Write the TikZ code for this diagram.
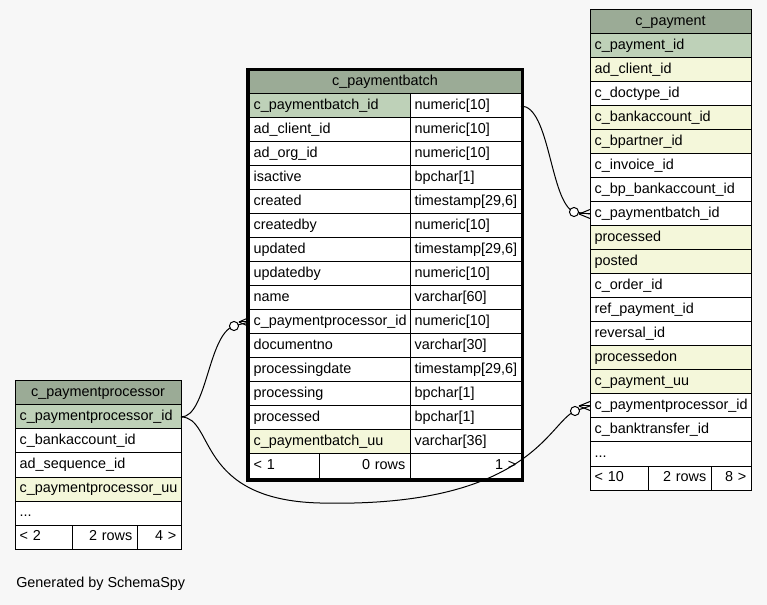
\documentclass[tikz,border=0pt]{standalone}
\usepackage{fontspec}
\setmainfont{Liberation Sans}
\usetikzlibrary{calc}
\definecolor{hdr}{HTML}{9BAB96}
\definecolor{pk}{HTML}{BED1B8}
\definecolor{idx}{HTML}{F4F7DA}
\definecolor{bg}{HTML}{F7F7F7}
\tikzset{
  cellbase/.style={draw=black, line width=0.75pt, anchor=north west, outer sep=0pt,
    inner xsep=3.5pt, inner ysep=0pt, minimum height=18pt,
    text height=7.9pt, text depth=2.4pt, font=\fontsize{10.8}{12}\selectfont},
  edge/.style={draw=black, line width=0.75pt},
  ocircle/.style={draw=black, line width=0.75pt, fill=white},
  gentext/.style={anchor=west, inner sep=0pt, font=\fontsize{10.8}{12}\selectfont},
}
% name, x1, x2, y, align, fill, text
\newcommand\tcell[7]{%
  \pgfmathsetmacro\tcw{(#3-#2)*0.75-7}%
  \node[cellbase, fill=#6, text width=\tcw pt, align=#5] (#1) at (#2,#4) {#7};%
}
\newcommand\crowat[2]{% apex offset, target anchor
  \draw[edge] ($(#2)+(#1,0)$) -- ($(#2)+(0,-4.5)$);
  \draw[edge] ($(#2)+(#1,0)$) -- (#2);
  \draw[edge] ($(#2)+(#1,0)$) -- ($(#2)+(0,4.5)$);
}
\begin{document}
\begin{tikzpicture}[x=0.75pt,y=-0.75pt]
\useasboundingbox (0,0) rectangle (767,605);
\fill[bg] (0,0) rectangle (767,605);

% ---------- c_paymentbatch ----------
\tcell{pbh}{249}{521}{70}{center}{hdr}{c\_paymentbatch}
\tcell{pb1}{249}{410}{94}{left}{pk}{c\_paymentbatch\_id}
\tcell{pb1t}{410}{521}{94}{left}{white}{numeric[10]}
\tcell{pb2}{249}{410}{118}{left}{white}{ad\_client\_id}
\tcell{pb2t}{410}{521}{118}{left}{white}{numeric[10]}
\tcell{pb3}{249}{410}{142}{left}{white}{ad\_org\_id}
\tcell{pb3t}{410}{521}{142}{left}{white}{numeric[10]}
\tcell{pb4}{249}{410}{166}{left}{white}{isactive}
\tcell{pb4t}{410}{521}{166}{left}{white}{bpchar[1]}
\tcell{pb5}{249}{410}{190}{left}{white}{created}
\tcell{pb5t}{410}{521}{190}{left}{white}{timestamp[29,6]}
\tcell{pb6}{249}{410}{214}{left}{white}{createdby}
\tcell{pb6t}{410}{521}{214}{left}{white}{numeric[10]}
\tcell{pb7}{249}{410}{238}{left}{white}{updated}
\tcell{pb7t}{410}{521}{238}{left}{white}{timestamp[29,6]}
\tcell{pb8}{249}{410}{262}{left}{white}{updatedby}
\tcell{pb8t}{410}{521}{262}{left}{white}{numeric[10]}
\tcell{pb9}{249}{410}{286}{left}{white}{name}
\tcell{pb9t}{410}{521}{286}{left}{white}{varchar[60]}
\tcell{pb10}{249}{410}{310}{left}{white}{c\_paymentprocessor\_id}
\tcell{pb10t}{410}{521}{310}{left}{white}{numeric[10]}
\tcell{pb11}{249}{410}{334}{left}{white}{documentno}
\tcell{pb11t}{410}{521}{334}{left}{white}{varchar[30]}
\tcell{pb12}{249}{410}{358}{left}{white}{processingdate}
\tcell{pb12t}{410}{521}{358}{left}{white}{timestamp[29,6]}
\tcell{pb13}{249}{410}{382}{left}{white}{processing}
\tcell{pb13t}{410}{521}{382}{left}{white}{bpchar[1]}
\tcell{pb14}{249}{410}{406}{left}{white}{processed}
\tcell{pb14t}{410}{521}{406}{left}{white}{bpchar[1]}
\tcell{pb15}{249}{410}{430}{left}{idx}{c\_paymentbatch\_uu}
\tcell{pb15t}{410}{521}{430}{left}{white}{varchar[36]}
\tcell{pbf1}{249}{319}{454}{left}{white}{< 1}
\tcell{pbf2}{319}{410}{454}{right}{white}{0 rows}
\tcell{pbf3}{410}{521}{454}{right}{white}{1 >\hspace*{1.2pt}}
\draw[line width=2.25pt] (247.5,69.5) rectangle (522.5,480);

% ---------- c_payment ----------
\tcell{ph}{590}{751}{10}{center}{hdr}{c\_payment}
\tcell{p1}{590}{751}{34}{left}{pk}{c\_payment\_id}
\tcell{p2}{590}{751}{58}{left}{idx}{ad\_client\_id}
\tcell{p3}{590}{751}{82}{left}{white}{c\_doctype\_id}
\tcell{p4}{590}{751}{106}{left}{idx}{c\_bankaccount\_id}
\tcell{p5}{590}{751}{130}{left}{idx}{c\_bpartner\_id}
\tcell{p6}{590}{751}{154}{left}{white}{c\_invoice\_id}
\tcell{p7}{590}{751}{178}{left}{white}{c\_bp\_bankaccount\_id}
\tcell{p8}{590}{751}{202}{left}{white}{c\_paymentbatch\_id}
\tcell{p9}{590}{751}{226}{left}{idx}{processed}
\tcell{p10}{590}{751}{250}{left}{idx}{posted}
\tcell{p11}{590}{751}{274}{left}{white}{c\_order\_id}
\tcell{p12}{590}{751}{298}{left}{white}{ref\_payment\_id}
\tcell{p13}{590}{751}{322}{left}{white}{reversal\_id}
\tcell{p14}{590}{751}{346}{left}{idx}{processedon}
\tcell{p15}{590}{751}{370}{left}{idx}{c\_payment\_uu}
\tcell{p16}{590}{751}{394}{left}{white}{c\_paymentprocessor\_id}
\tcell{p17}{590}{751}{418}{left}{white}{c\_banktransfer\_id}
\tcell{p18}{590}{751}{442}{left}{white}{...}
\tcell{pf1}{590}{648}{466}{left}{white}{< 10}
\tcell{pf2}{648}{711}{466}{right}{white}{2 rows}
\tcell{pf3}{711}{751}{466}{right}{white}{8 >}

% ---------- c_paymentprocessor ----------
\tcell{pph}{15}{181}{381}{center}{hdr}{c\_paymentprocessor}
\tcell{pp1}{15}{181}{405}{left}{pk}{c\_paymentprocessor\_id}
\tcell{pp2}{15}{181}{429}{left}{white}{c\_bankaccount\_id}
\tcell{pp3}{15}{181}{453}{left}{white}{ad\_sequence\_id}
\tcell{pp4}{15}{181}{477}{left}{idx}{c\_paymentprocessor\_uu}
\tcell{pp5}{15}{181}{501}{left}{white}{...}
\tcell{ppf1}{15}{72}{525}{left}{white}{< 2}
\tcell{ppf2}{72}{137}{525}{right}{white}{2 rows}
\tcell{ppf3}{137}{181}{525}{right}{white}{4 >}

% ---------- connectors ----------
% c_paymentbatch.c_paymentbatch_id -> c_payment.c_paymentbatch_id
\coordinate (o1) at (574,212);
\draw[edge] (pb1t.east) .. controls (550,106) and (550,202) .. (o1);
\draw[edge] (o1) -- (p8.west);
\crowat{-11}{p8.west}
\draw[ocircle] (o1) circle[radius=3.4pt];

% c_paymentprocessor.id -> c_paymentbatch.c_paymentprocessor_id
\coordinate (o2) at (234,326);
\draw[edge] (pp1.east) .. controls (207,417) and (208,334) .. (o2);
\draw[edge] (o2) -- (pb10.west);
\crowat{-10}{pb10.west}
\draw[ocircle] (o2) circle[radius=3.4pt];

% c_paymentprocessor.id -> c_payment.c_paymentprocessor_id
\coordinate (o3) at (575,411);
\draw[edge] (pp1.east) .. controls (215,417) and (195,500) .. (320,503)
  .. controls (530,508) and (548,423) .. (o3);
\draw[edge] (o3) -- (p16.west);
\crowat{-11}{p16.west}
\draw[ocircle] (o3) circle[radius=3.4pt];

\node[gentext] (gen) at (16,584) {Generated by SchemaSpy};
\end{tikzpicture}
\end{document}
